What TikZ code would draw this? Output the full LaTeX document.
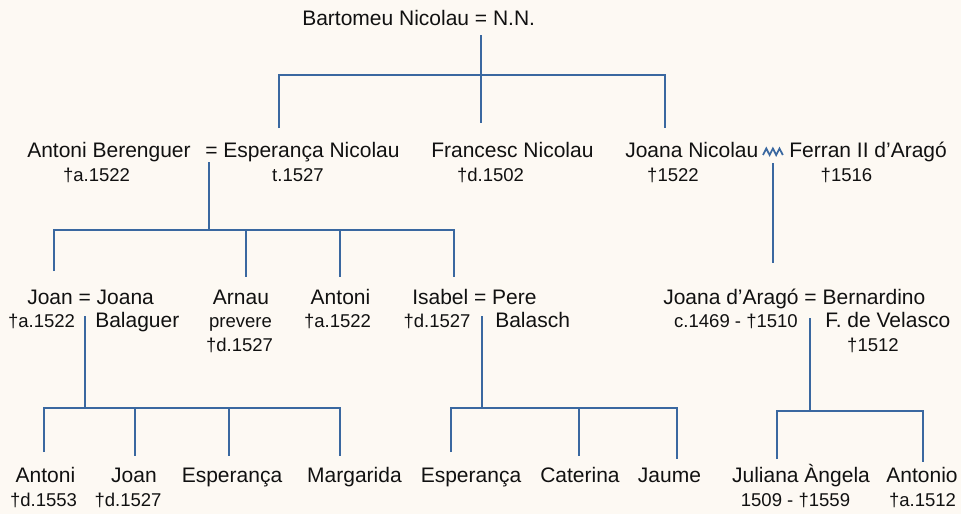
\documentclass[tikz,border=0pt]{standalone}
\usepackage{fontspec}
\setmainfont{Liberation Sans}
\definecolor{bgc}{HTML}{FDF9F3}
\definecolor{linec}{HTML}{3A68A0}
\definecolor{txtc}{HTML}{111111}
\newcommand{\nmfont}{\fontsize{15.75pt}{18pt}\selectfont}
\newcommand{\dtfont}{\fontsize{13.9pt}{16pt}\selectfont}
\begin{document}
\begin{tikzpicture}[x=0.75pt,y=-0.75pt,
  nm/.style={font=\nmfont, inner sep=0pt, anchor=base west, text=txtc},
  nmc/.style={font=\nmfont, inner sep=0pt, anchor=base, text=txtc},
  dt/.style={font=\dtfont, inner sep=0pt, anchor=base, text=txtc},
  conn/.style={draw=linec, line width=2.2pt, line join=miter},
  wave/.style={draw=linec, line width=1.3pt, line join=miter}]
\fill[bgc] (0,0) rectangle (961,514);
\useasboundingbox (0,0) rectangle (961,514);

% ---- generation 1
\node[nm] (bart) at (302,26) {Bartomeu Nicolau = N.N.};

% ---- generation 2
\node[nm] (antb) at (27,157) {Antoni Berenguer};
\node[dt] (antbd) at (96.5,181) {†a.1522};
\node[nm] (espn) at (205,157) {= Esperança Nicolau};
\node[dt] (espnd) at (298,181) {t.1527};
\node[nm] (franc) at (431,157) {Francesc Nicolau};
\node[dt] (francd) at (490.5,181) {†d.1502};
\node[nm] (joanan) at (625,157) {Joana Nicolau};
\node[dt] (joanand) at (673,181) {†1522};
\node[nm] (ferran) at (789,157) {Ferran II d’Aragó};
\node[dt] (ferrand) at (846.5,181) {†1516};

% ---- generation 3
\node[nm] (joan) at (27,304) {Joan = Joana};
\node[dt] (joand) at (41.5,327) {†a.1522};
\node[nm] (balag) at (95,327) {Balaguer};
\node[nmc] (arnau) at (241,304) {Arnau};
\node[dt] (arnaup) at (240.5,327) {prevere};
\node[dt] (arnaud) at (239.5,351) {†d.1527};
\node[nmc] (antoni) at (340.5,304) {Antoni};
\node[dt] (antonid) at (337.5,327) {†a.1522};
\node[nm] (isabel) at (412,304) {Isabel = Pere};
\node[dt] (isabeld) at (437,327) {†d.1527};
\node[nm] (balasch) at (495,327) {Balasch};
\node[nm] (joanaa) at (663,304) {Joana d’Aragó = Bernardino};
\node[dt] (joanaad) at (736,327) {c.1469 - †1510};
\node[nm] (velasco) at (825,327) {F. de Velasco};
\node[dt] (velascod) at (873,351) {†1512};

% ---- generation 4
\node[nmc] (g4a) at (45.5,482) {Antoni};
\node[dt] (g4ad) at (43.5,506) {†d.1553};
\node[nmc] (g4b) at (134,482) {Joan};
\node[dt] (g4bd) at (128,506) {†d.1527};
\node[nmc] (g4c) at (232,482) {Esperança};
\node[nmc] (g4d) at (354.5,482) {Margarida};
\node[nmc] (g4e) at (471,482) {Esperança};
\node[nmc] (g4f) at (580,482) {Caterina};
\node[nmc] (g4g) at (669.5,482) {Jaume};
\node[nmc] (g4h) at (801,482) {Juliana Àngela};
\node[dt] (g4hd) at (795.5,506) {1509 - †1559};
\node[nmc] (g4i) at (922,482) {Antonio};
\node[dt] (g4id) at (922.5,506) {†a.1512};

% ---- connector coordinates
\coordinate (bS) at (481,35);   \coordinate (bM) at (481,123);
\coordinate (bLe) at (279,128); \coordinate (bL) at (279,75);
\coordinate (bR) at (665,75);   \coordinate (bRe) at (665,128);

\coordinate (eS) at (209,162);  \coordinate (eJ) at (209,230);
\coordinate (e1e) at (54,271);  \coordinate (e1) at (54,230);
\coordinate (e2e) at (246,277); \coordinate (e2) at (246,230);
\coordinate (e3e) at (340,277); \coordinate (e3) at (340,230);
\coordinate (e4e) at (454,277); \coordinate (e4) at (454,230);

\coordinate (nS) at (773,163);  \coordinate (nE) at (773,263);

\coordinate (jS) at (85,316);   \coordinate (jJ) at (85,408);
\coordinate (j1e) at (44,452);  \coordinate (j1) at (44,408);
\coordinate (j2e) at (135,456); \coordinate (j2) at (135,408);
\coordinate (j3e) at (229,456); \coordinate (j3) at (229,408);
\coordinate (j4e) at (340,456); \coordinate (j4) at (340,408);

\coordinate (iS) at (482,316);  \coordinate (iJ) at (482,408);
\coordinate (i1e) at (451,452); \coordinate (i1) at (451,408);
\coordinate (i2e) at (579,456); \coordinate (i2) at (579,408);
\coordinate (i3e) at (677,459); \coordinate (i3) at (677,408);

\coordinate (vS) at (810,318);  \coordinate (vJ) at (810,411);
\coordinate (v1e) at (777,459); \coordinate (v1) at (777,411);
\coordinate (v2e) at (923,462); \coordinate (v2) at (923,411);

% ---- connectors
\draw[conn] (bLe) -- (bL) -- (bR) -- (bRe);
\draw[conn] (bS) -- (bM);

\draw[conn] (e1e) -- (e1) -- (e4) -- (e4e);
\draw[conn] (eS) -- (eJ);
\draw[conn] (e2) -- (e2e);
\draw[conn] (e3) -- (e3e);

\draw[conn] (nS) -- (nE);

\draw[conn] (j1e) -- (j1) -- (j4) -- (j4e);
\draw[conn] (jS) -- (jJ);
\draw[conn] (j2) -- (j2e);
\draw[conn] (j3) -- (j3e);

\draw[conn] (i1e) -- (i1) -- (i3) -- (i3e);
\draw[conn] (iS) -- (iJ);
\draw[conn] (i2) -- (i2e);

\draw[conn] (v1e) -- (v1) -- (v2) -- (v2e);
\draw[conn] (vS) -- (vJ);

% ---- wavy (illegitimate union) sign
\draw[wave] (763,155) -- (766.3,148.5) -- (769.6,155) -- (772.9,148.5)
  -- (776.2,155) -- (779.5,148.5) -- (782.8,155);
\end{tikzpicture}
\end{document}
